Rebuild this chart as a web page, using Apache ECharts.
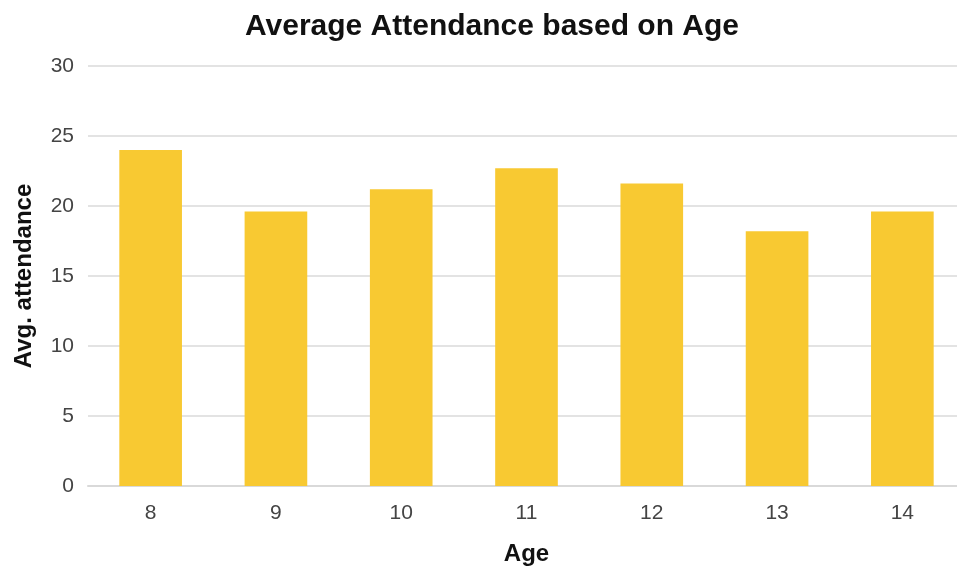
<!DOCTYPE html>
<html>
<head>
<meta charset="utf-8">
<script src="https://cdn.jsdelivr.net/npm/echarts@6/dist/echarts.min.js"></script>
<style>
  html, body { margin: 0; padding: 0; background: #ffffff; }
  #chart { width: 957px; height: 566px; }
</style>
</head>
<body>
<div id="chart"></div>
<script>
// Ages on the x axis and the mean attendance for each
const ages = ['8', '9', '10', '11', '12', '13', '14'];
const avgAttendance = [24.0, 19.6, 21.2, 22.7, 21.6, 18.2, 19.6];
const yTicks = { min: 0, max: 30, interval: 5 };

const chart = echarts.init(document.getElementById('chart'), null, { renderer: 'canvas' });

chart.setOption({
  backgroundColor: '#ffffff',
  animation: false,
  textStyle: { fontFamily: 'Liberation Sans, Arial, sans-serif' },
  title: {
    text: 'Average Attendance based on Age',
    left: 487,
    top: 7,
    textAlign: 'center',
    textStyle: { fontSize: 30, fontWeight: 'bold', color: '#111111' }
  },
  // plot area runs slightly past the right edge of the canvas
  grid: { left: 88, top: 66, width: 877, height: 420, containLabel: false, outerBoundsMode: 'none' },
  xAxis: {
    type: 'category',
    data: ages,
    name: 'Age',
    nameLocation: 'middle',
    nameGap: 56,
    nameTextStyle: { fontSize: 24, fontWeight: 'bold', color: '#111111' },
    axisLine: { show: true, lineStyle: { color: '#d9d9d9', width: 2 } },
    axisTick: { show: false },
    axisLabel: { fontSize: 21, color: '#444444', margin: 17 }
  },
  yAxis: {
    type: 'value',
    min: yTicks.min,
    max: yTicks.max,
    interval: yTicks.interval,
    name: 'Avg. attendance',
    nameLocation: 'middle',
    nameGap: 52,
    nameRotate: 90,
    nameTextStyle: { fontSize: 24, fontWeight: 'bold', color: '#111111' },
    axisLine: { show: false },
    axisTick: { show: false },
    axisLabel: { fontSize: 21, color: '#444444', margin: 14, padding: [3, 0, 0, 0] },
    splitLine: { lineStyle: { color: '#e3e3e3', width: 2 } }
  },
  series: [{
    type: 'bar',
    data: avgAttendance,
    barWidth: '50%',
    itemStyle: { color: '#F8C932' }
  }]
});
</script>
</body>
</html>
